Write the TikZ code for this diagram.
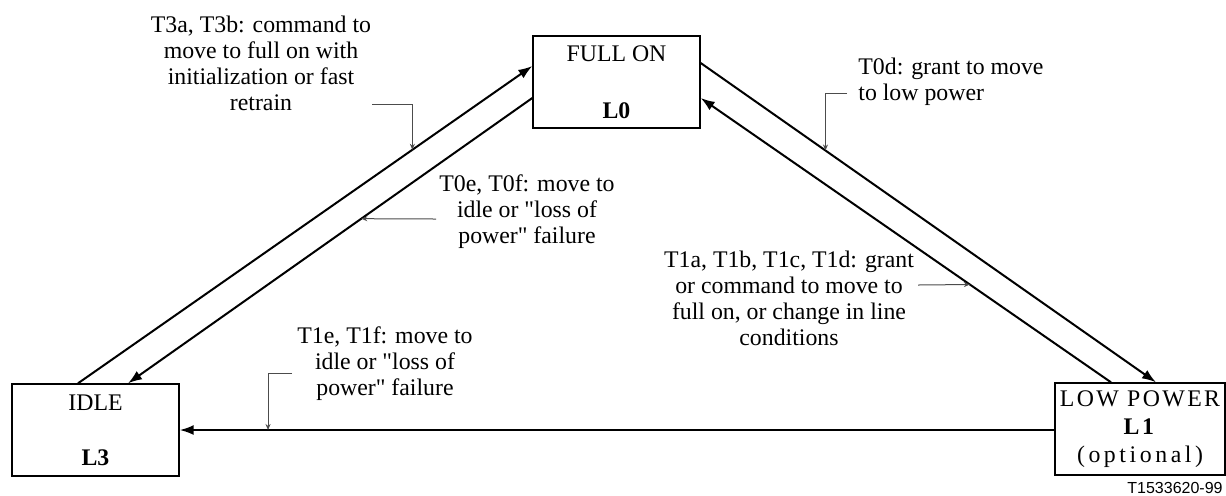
\documentclass[tikz,border=0pt]{standalone}
\usepackage{fontspec}
\setmainfont{Liberation Serif}[Ligatures=TeXOff]
\newfontfamily\figsans{Liberation Sans}
\usetikzlibrary{arrows.meta,calc}

\begin{document}
\begin{tikzpicture}[x=0.5pt,y=-0.5pt,
    state/.style={draw,line width=0.7pt,inner sep=0pt,align=center,
        minimum width=83.5pt,minimum height=46pt},
    note/.style={inner sep=0pt,align=center},
    trans/.style={line width=1pt,-{Latex[length=7pt,width=5pt]}},
    ptr/.style={line width=0.5pt,black!70,-{Stealth[length=3pt,width=2.5pt]}}]
            \useasboundingbox (0,0) rectangle (1226,495);
            \fontsize{11.9pt}{13pt}\selectfont

            \node[state] (full) at (616.5,82) {FULL ON\\[15.3pt]\textbf{L0}};
            \node[state] (idle) at (95.5,430) {IDLE\\[14.5pt]\textbf{L3}};
            \node[state,minimum width=85pt,font=\addfontfeatures{LetterSpace=10}] (low) at (1140,429)
                {LOW POWER\\[1pt]\textbf{L1}\\[1pt]\addfontfeatures{LetterSpace=15}(optional)};

            \draw[trans] ($(idle.north)+(-17.5,0)$) -- coordinate[pos=0.736] (hit3a)
                ($(full.west)+(0,-16)$);
            \draw[trans] ($(full.west)+(0,16)$) -- coordinate[pos=0.423] (hit0e)
                ($(idle.north)+(32.5,0)$);
            \draw[trans] ($(full.east)+(0,-19)$) -- coordinate[pos=0.274] (hit0d)
                ($(low.north)+(16,0)$);
            \draw[trans] ($(low.north)+(-29,0)$) -- coordinate[pos=0.344] (hit1a)
                ($(full.east)+(0,16)$);
            \draw[trans] ($(low.west)+(0,1)$) -- coordinate[pos=0.899] (hit1e)
                (idle.east);

            \node[note,anchor=north] (t3a) at (261,15.7)
                {T3a, T3b: command to\\move to full on with\\initialization or fast\\retrain};
            \node[note,anchor=north west,align=left] (t0d) at (858,57.7)
                {T0d: grant to move\\to low power};
            \node[note,anchor=north] (t0e) at (527,174.7)
                {T0e, T0f: move to\\idle or "loss of\\power" failure};
            \node[note,anchor=north] (t1a) at (789,250.7)
                {T1a, T1b, T1c, T1d: grant\\or command to move to\\full on, or change in line\\conditions};
            \node[note,anchor=north] (t1e) at (385,326.7)
                {T1e, T1f: move to\\idle or "loss of\\power" failure};
            \node[anchor=base east,inner sep=0pt,font=\figsans\fontsize{8pt}{9pt}\selectfont]
                (ref) at (1223,493) {T1533620-99};

            \coordinate (s3a) at (372,104);
            \coordinate (s0d) at (847,93);
            \coordinate (s0e) at (436,219);
            \coordinate (s1a) at (918,285);
            \coordinate (s1e) at (292,373);

            \draw[ptr] (s3a) -| (hit3a);
            \draw[ptr] (s0d) -| (hit0d);
            \draw[ptr] (s0e) -- (hit0e);
            \draw[ptr] (s1a) -- (hit1a);
            \draw[ptr] (s1e) -| (hit1e);
        \end{tikzpicture}
\end{document}
